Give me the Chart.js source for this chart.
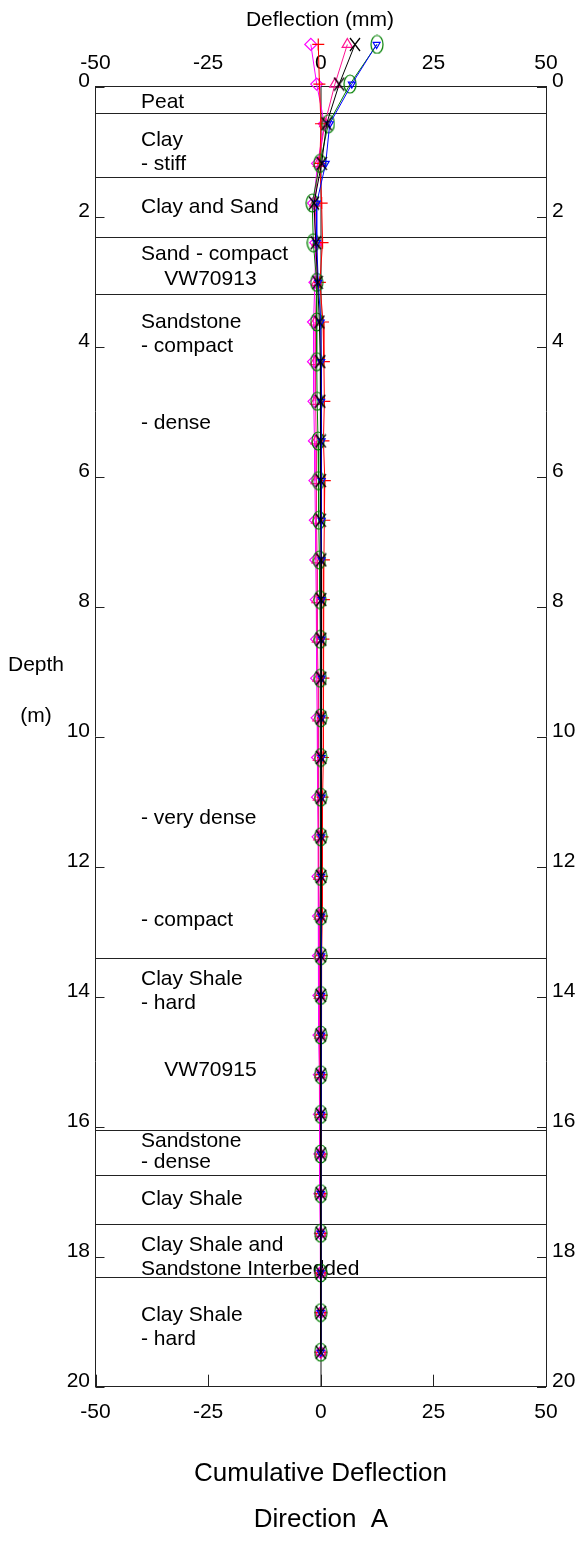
<!DOCTYPE html>
<html><head><meta charset="utf-8">
<script src="https://cdn.jsdelivr.net/npm/chart.js@4.4.1/dist/chart.umd.min.js"></script>
<style>html,body{margin:0;padding:0;background:#fff;}#wrap{width:580px;height:1541px;}</style>
</head><body><div id="wrap"><canvas id="c" width="580" height="1541"></canvas></div>
<script>
// ---- data ----
const depths = [-0.65,-0.04,0.57,1.18,1.79,2.40,3.01,3.62,4.23,4.84,5.45,6.06,6.67,7.28,7.89,8.50,9.10,9.71,10.32,10.93,11.54,12.15,12.76,13.37,13.98,14.59,15.20,15.81,16.42,17.03,17.64,18.25,18.86,19.47];
const seriesMagenta = [-2.2,-0.9,0.8,-0.7,-1.6,-1.1,-1.3,-1.6,-1.6,-1.5,-1.4,-1.3,-1.2,-1.1,-1.0,-0.9,-0.9,-0.8,-0.7,-0.7,-0.6,-0.6,-0.5,-0.5,-0.4,-0.4,-0.3,-0.3,-0.2,-0.2,-0.1,-0.1,0.0,0.0];
const seriesRed = [-0.55,-0.3,0.05,-0.2,0.2,0.4,-0.2,0.5,0.7,0.8,0.6,0.9,0.8,0.7,0.7,0.6,0.6,0.5,0.5,0.4,0.4,0.3,0.3,0.2,0.2,0.2,0.1,0.1,0.1,0.0,0.0,0.0,0.0,0.0];
const seriesPink = [5.9,3.15,0.9,-0.5,-1.3,-0.8,-0.9,-1.2,-1.2,-1.1,-1.0,-1.0,-0.9,-0.8,-0.8,-0.7,-0.6,-0.6,-0.5,-0.5,-0.4,-0.4,-0.3,-0.3,-0.3,-0.2,-0.2,-0.1,-0.1,-0.1,0.0,0.0,0.0,0.0];
const seriesBlack = [7.6,4.1,1.3,0.2,-1.5,-1.1,-0.7,-0.3,-0.1,-0.1,0.0,0.0,0.0,0.1,0.1,0.1,0.1,0.1,0.1,0.1,0.1,0.1,0.1,0.0,0.0,0.0,0.0,0.0,0.0,0.0,0.0,0.0,0.0,0.0];
const seriesGreen = [12.5,6.5,1.7,-0.2,-1.9,-1.65,-0.9,-0.9,-0.9,-0.8,-0.6,-0.5,-0.4,-0.3,-0.2,-0.1,-0.1,0.0,0.0,0.0,0.0,0.0,0.0,0.0,0.0,0.0,0.0,0.0,0.0,0.0,0.0,0.0,0.0,0.0];
const seriesBlue = [12.4,6.9,2.0,1.1,-0.9,-0.9,-0.55,0.0,0.1,0.1,0.2,0.2,0.2,0.2,0.2,0.2,0.2,0.2,0.2,0.2,0.1,0.1,0.1,0.1,0.1,0.1,0.1,0.1,0.0,0.0,0.0,0.0,0.0,0.0];
const xTickValues = [-50,-25,0,25,50];
const depthTickValues = [0,2,4,6,8,10,12,14,16,18,20];
const layerBoundaries = [0.40,1.39,2.31,3.19,13.40,16.05,16.75,17.50,18.31];
const layerTexts = ["Peat","Clay","- stiff","Clay and Sand","Sand - compact","    VW70913","Sandstone","- compact","- dense","- very dense","- compact","Clay Shale","- hard","    VW70915","Sandstone","- dense","Clay Shale","Clay Shale and","Sandstone Interbedded","Clay Shale","- hard"];
const layerTextDepths = [0.24,0.82,1.19,1.86,2.57,2.96,3.62,3.99,5.17,11.25,12.82,13.73,14.10,15.13,16.22,16.55,17.12,17.82,18.20,18.90,19.27];

// ---- styles ----
const FONT = "'Liberation Sans', Arial, Helvetica, sans-serif";
function ellipseMarker(w,h,color){const c=document.createElement('canvas');c.width=w;c.height=h;const g=c.getContext('2d');g.strokeStyle=color;g.lineWidth=1.2;g.beginPath();g.ellipse(w/2,h/2,w/2-1,h/2-1,0,0,Math.PI*2);g.stroke();return c;}
function xMarker(w,h,color){const c=document.createElement('canvas');c.width=w;c.height=h;const g=c.getContext('2d');g.strokeStyle=color;g.lineWidth=1.3;g.beginPath();g.moveTo(1,1);g.lineTo(w-1,h-1);g.moveTo(w-1,1);g.lineTo(1,h-1);g.stroke();return c;}
const pts = vals => depths.map((d,i)=>({x:vals[i],y:d}));
function ds(vals,color,style,radius,rot){
  return {data:pts(vals),showLine:true,borderColor:color,borderWidth:1,pointStyle:style,pointRadius:radius,pointHoverRadius:radius,
    pointBorderColor:color,pointBackgroundColor:'rgba(0,0,0,0)',pointBorderWidth:1.2,pointRotation:rot||0,clip:false,xAxisID:'x',yAxisID:'y'};
}
const datasets = [
  ds(seriesBlack,'#000000',xMarker(12,15,'#000'),6),
  ds(seriesBlue,'#0000ff','triangle',4,180),
  ds(seriesGreen,'#008000',ellipseMarker(14,20,'#008000'),8),
  ds(seriesRed,'#ff0000','cross',6),
  ds(seriesPink,'#ff1493','triangle',6),
  ds(seriesMagenta,'#ff00ff','rectRot',6),
];

const tickFont = {size:21,family:FONT};
const deco = {
  id:'deco',
  beforeDatasetsDraw(chart){
    const {ctx,chartArea:a,scales} = chart; const y=scales.y;
    ctx.save();
    ctx.strokeStyle='#222';ctx.lineWidth=1;
    layerBoundaries.forEach(d=>{const py=Math.round(y.getPixelForValue(d))+0.5;ctx.beginPath();ctx.moveTo(a.left,py);ctx.lineTo(a.right,py);ctx.stroke();});
    ctx.fillStyle='#000';ctx.font='21px '+FONT;ctx.textAlign='left';ctx.textBaseline='middle';
    layerTexts.forEach((t,i)=>ctx.fillText(t,141,y.getPixelForValue(layerTextDepths[i])));
    ctx.restore();
  },
  afterDatasetsDraw(chart){
    // points above the top border (casing stick-up) are skipped by Chart.js; draw them explicitly
    const ctx=chart.ctx, a=chart.chartArea;
    const whole={left:0,top:0,right:chart.width,bottom:chart.height};
    for(let i=chart.data.datasets.length-1;i>=0;i--){
      const meta=chart.getDatasetMeta(i);
      meta.data.forEach(el=>{ if(el.y < a.top-12){ el.draw(ctx,whole); } });
    }
  },
  afterDraw(chart){
    const {ctx,chartArea:a,scales} = chart;
    ctx.save();ctx.strokeStyle='#222';ctx.lineWidth=1;
    depthTickValues.forEach(v=>{const py=Math.round(scales.y.getPixelForValue(v))+0.5;
      ctx.beginPath();ctx.moveTo(a.left,py);ctx.lineTo(a.left+9,py);ctx.moveTo(a.right,py);ctx.lineTo(a.right-9,py);ctx.stroke();});
    xTickValues.forEach(v=>{const px=Math.round(scales.x.getPixelForValue(v))+0.5;
      ctx.beginPath();ctx.moveTo(px,a.bottom);ctx.lineTo(px,a.bottom-12);ctx.stroke();});
    ctx.fillStyle='#000';ctx.textAlign='center';ctx.textBaseline='middle';
    ctx.font='21px '+FONT;
    ctx.fillText('Deflection (mm)',320,20);
    ctx.fillText('Depth',36,665);
    ctx.fillText('(m)',36,716);
    ctx.font='26px '+FONT;
    ctx.fillText('Cumulative Deflection',320.5,1474);
    ctx.fillText('Direction  A',321,1520);
    ctx.restore();
  }
};

new Chart(document.getElementById('c'),{
  type:'scatter',
  data:{datasets},
  options:{
    responsive:false,animation:false,devicePixelRatio:1,
    layout:{padding:0},
    plugins:{legend:{display:false},tooltip:{enabled:false}},
    scales:{
      x:{type:'linear',position:'bottom',min:-50,max:50,afterBuildTicks:s=>{s.ticks=xTickValues.map(v=>({value:v}));},
        ticks:{font:tickFont,color:'#000',padding:13,maxRotation:0,autoSkip:false},
        grid:{drawTicks:false,color:c=>(c.tick&&c.tick.value===0)?'#8a8a8a':'rgba(0,0,0,0)',lineWidth:c=>(c.tick&&c.tick.value===0)?2:0},
        border:{display:true,color:'#222',width:1},afterFit:s=>{s.height=1541-1386.7;}},
      xTop:{type:'linear',position:'top',min:-50,max:50,afterBuildTicks:s=>{s.ticks=xTickValues.map(v=>({value:v}));},
        ticks:{font:tickFont,color:'#000',padding:11,maxRotation:0,autoSkip:false},
        grid:{display:false,drawTicks:false},border:{display:true,color:'#222',width:1},afterFit:s=>{s.height=86.7;}},
      y:{type:'linear',position:'left',reverse:true,min:0,max:20,afterBuildTicks:s=>{s.ticks=depthTickValues.map(v=>({value:v}));},
        ticks:{font:tickFont,color:'#000',padding:5.5,labelOffset:-5,autoSkip:false},
        grid:{display:false,drawTicks:false},border:{display:true,color:'#222',width:1},afterFit:s=>{s.width=95.5;}},
      yRight:{type:'linear',position:'right',reverse:true,min:0,max:20,afterBuildTicks:s=>{s.ticks=depthTickValues.map(v=>({value:v}));},
        ticks:{font:tickFont,color:'#000',padding:6,labelOffset:-5,autoSkip:false},
        grid:{display:false,drawTicks:false},border:{display:true,color:'#222',width:1},afterFit:s=>{s.width=34;}}
    }
  },
  plugins:[deco]
});
</script></body></html>
